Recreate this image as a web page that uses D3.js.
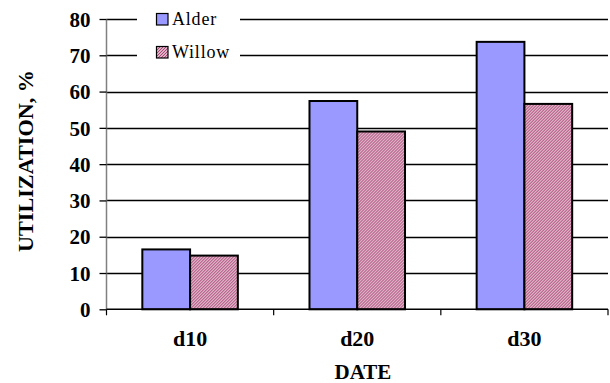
<!DOCTYPE html>
<html>
<head>
<meta charset="utf-8">
<script src="https://cdn.jsdelivr.net/npm/d3@7"></script>
<style>
  html, body { margin: 0; padding: 0; background: #fff; }
  svg { display: block; }
  svg text { font-family: "Liberation Serif", "Times New Roman", serif !important; fill: #000; }
</style>
</head>
<body>
<svg id="chart" width="610" height="383"></svg>
<script>
// Utilization by date for two browse species
const categories = ["d10", "d20", "d30"];
const seriesNames = ["Alder", "Willow"];
const alderValues = [16.5, 57.4, 73.7];
const willowValues = [14.8, 49.0, 56.6];
const yTicks = [0, 10, 20, 30, 40, 50, 60, 70, 80];

const svg = d3.select("#chart");
const plot = { left: 106.5, right: 608, top: 19, bottom: 309.3 };

const x = d3.scaleBand().domain(categories).range([plot.left, plot.right]).paddingInner(0).paddingOuter(0);
const y = d3.scaleLinear().domain([0, 80]).range([plot.bottom, plot.top]);
const barW = x.bandwidth() / 3.5;
const inner = d3.scaleBand().domain(seriesNames).range([0, barW * 2]);

// hatched fill for Willow
const defs = svg.append("defs");
const pat = defs.append("pattern")
  .attr("id", "hatch").attr("patternUnits", "userSpaceOnUse")
  .attr("width", 3).attr("height", 3);
pat.append("rect").attr("width", 3).attr("height", 3).attr("fill", "#f6dde8");
pat.append("path").attr("d", "M-1,1 l2,-2 M0,3 l3,-3 M2,4 l2,-2")
  .attr("stroke", "#a3406f").attr("stroke-width", 1.1);

// horizontal gridlines
svg.append("g").selectAll("line").data(yTicks.filter(d => d > 0)).join("line")
  .attr("x1", plot.left).attr("x2", plot.right)
  .attr("y1", d => Math.round(y(d)) + 0.5).attr("y2", d => Math.round(y(d)) + 0.5)
  .attr("stroke", "#000").attr("stroke-width", 1.3);

// bars
const rows = categories.map((c, i) => ({ cat: c, values: [alderValues[i], willowValues[i]] }));
const groups = svg.append("g").selectAll("g").data(rows).join("g")
  .attr("transform", d => `translate(${x(d.cat) + (x.bandwidth() - barW * 2) / 2},0)`);
groups.selectAll("rect").data(d => d.values.map((v, j) => ({ name: seriesNames[j], v }))).join("rect")
  .attr("x", d => inner(d.name))
  .attr("y", d => y(d.v))
  .attr("width", barW)
  .attr("height", d => y(0) - y(d.v))
  .attr("fill", d => d.name === "Alder" ? "#9999ff" : "url(#hatch)")
  .attr("stroke", "#000").attr("stroke-width", 2);

// y axis
const yAxis = svg.append("g").attr("transform", `translate(${plot.left},0)`)
  .call(d3.axisLeft(y).tickValues(yTicks).tickSize(7).tickPadding(9).tickFormat(d3.format("d")));
yAxis.attr("font-family", null).attr("font-size", null);
yAxis.select(".domain").attr("stroke", "#808080").attr("stroke-width", 1.5)
  .attr("d", `M0,${plot.top}V${plot.bottom}`);
yAxis.selectAll(".tick line").attr("stroke", "#000").attr("stroke-width", 1.3);
yAxis.selectAll(".tick text")
  .style("font-size", "21px").style("font-weight", "bold")
  .attr("dy", "0.34em");

// x axis
const xAxis = svg.append("g").attr("transform", `translate(0,${plot.bottom})`);
xAxis.append("line").attr("x1", plot.left).attr("x2", plot.right)
  .attr("stroke", "#000").attr("stroke-width", 1.5);
const boundaries = categories.map(c => x(c)).concat([plot.right]);
xAxis.selectAll("line.tk").data(boundaries).join("line").attr("class", "tk")
  .attr("x1", d => d).attr("x2", d => d).attr("y1", 0).attr("y2", 6)
  .attr("stroke", "#000").attr("stroke-width", 1.2);
xAxis.selectAll("text").data(categories).join("text")
  .attr("x", d => x(d) + x.bandwidth() / 2).attr("y", 37)
  .attr("text-anchor", "middle")
  .style("font-size", "22px").style("font-weight", "bold")
  .text(d => d);

// axis titles
svg.append("text").attr("transform", "translate(33,161) rotate(-90)")
  .attr("text-anchor", "middle")
  .style("font-size", "21px").style("font-weight", "bold")
  .attr("textLength", 182).attr("lengthAdjust", "spacingAndGlyphs")
  .text("UTILIZATION, %");
svg.append("text").attr("x", 363).attr("y", 379)
  .attr("text-anchor", "middle")
  .style("font-size", "21px").style("font-weight", "bold")
  .text("DATE");

// legend
const legend = svg.append("g");
legend.append("rect").attr("x", 137).attr("y", 4).attr("width", 103).attr("height", 62).attr("fill", "#fff");
const legY = [13, 46];
seriesNames.forEach((name, i) => {
  legend.append("rect").attr("x", 156.5).attr("y", legY[i] + 0.5).attr("width", 11.5).attr("height", 11.5)
    .attr("fill", name === "Alder" ? "#9999ff" : "url(#hatch)")
    .attr("stroke", "#000").attr("stroke-width", 1.2);
  legend.append("text").attr("x", 172).attr("y", legY[i] + 12)
    .style("font-size", "18px").style("letter-spacing", "0.8px")
    .text(name);
});
</script>
</body>
</html>
